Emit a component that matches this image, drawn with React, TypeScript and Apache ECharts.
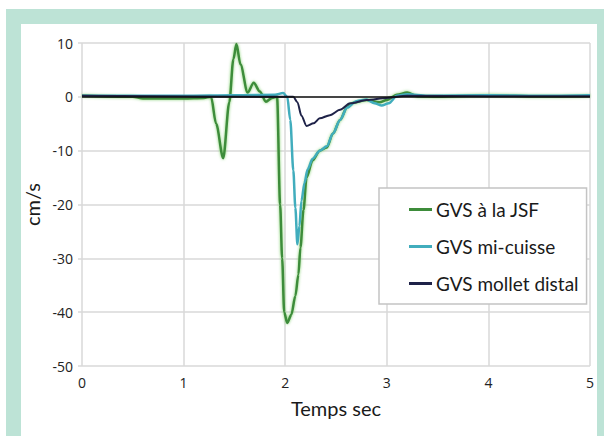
import React, { useEffect, useRef } from "react";
import * as echarts from "echarts";

const xTicks = [0, 1, 2, 3, 4, 5];
const yTicks = [-50, -40, -30, -20, -10, 0, 10];

const seriesNames = ["GVS à la JSF", "GVS mi-cuisse", "GVS mollet distal"];

const jsfTime = [0, 0.5, 0.6, 1.0, 1.2, 1.27, 1.32, 1.39, 1.45, 1.49, 1.52, 1.56, 1.63, 1.69, 1.75, 1.81, 1.87, 1.92, 1.95, 1.97, 1.99, 2.02, 2.06, 2.1, 2.13, 2.15, 2.18, 2.21, 2.27, 2.34, 2.41, 2.47, 2.54, 2.61, 2.67, 2.8, 2.93, 3.0, 3.1, 3.2, 3.3, 3.5, 4.0, 4.5, 5.0];
const jsfValues = [0.2, 0, -0.3, -0.3, -0.2, 0, -5, -11.4, -1, 7, 9.8, 6, 0.8, 2.6, 1, -0.9, -0.2, 0, -20, -30, -40, -42, -40.5, -37, -33, -28, -21, -15, -11.8, -10, -9.4, -6.8, -4.3, -1.9, -1.1, -0.6, -1, -0.6, 0.4, 0.8, 0.1, 0, 0.3, 0.1, 0.2];

const cuisseTime = [0, 1.0, 1.5, 1.9, 1.98, 2.02, 2.05, 2.08, 2.1, 2.12, 2.14, 2.16, 2.19, 2.22, 2.27, 2.34, 2.41, 2.47, 2.54, 2.61, 2.7, 2.8, 2.88, 2.95, 3.02, 3.1, 3.2, 3.4, 4.0, 4.5, 5.0];
const cuisseValues = [0.2, 0.2, 0.3, 0.4, 0.7, 0, -4.3, -13.7, -20.6, -27.4, -24, -19.3, -16, -13.5, -11.5, -10, -9.2, -6.8, -4.3, -2, -0.8, -0.5, -1.2, -1.6, -1.2, 0.2, 0.5, 0.2, 0.3, 0.2, 0.3];

const molletTime = [0, 2.0, 2.08, 2.12, 2.16, 2.21, 2.28, 2.34, 2.44, 2.54, 2.64, 2.8, 3.0, 3.2, 4.0, 5.0];
const molletValues = [0.2, 0, 0, -1, -3.5, -5.4, -4.9, -4, -3.4, -2.4, -1.2, -0.6, -0.2, 0.2, 0.1, 0.1];

const colors = ["#3d8c3a", "#41adbd", "#1e2248"];

const pair = (t: number[], v: number[]) => t.map((x, i) => [x, v[i]]);

const narrow = 'Lato, "Open Sans", sans-serif';

export default function App() {
  const ref = useRef<HTMLDivElement>(null);
  useEffect(() => {
    if (!ref.current) return;
    const chart = echarts.init(ref.current, undefined, { renderer: "svg" });
    chart.setOption({
      animation: false,
      grid: { left: 82, right: 14, top: 43, bottom: 70, containLabel: false },
      legend: {
        orient: "vertical",
        left: 379,
        top: 188,
        backgroundColor: "#fff",
        borderColor: "#c4c4c4",
        borderWidth: 1.5,
        padding: [12, 8, 11, 30],
        itemGap: 18,
        itemWidth: 23,
        itemHeight: 3,
        icon: "rect",
        data: seriesNames,
        textStyle: { fontFamily: narrow, fontSize: 19, color: "#1a1a1a", padding: [0, 0, 0, -1] },
      },
      xAxis: {
        type: "value",
        min: xTicks[0],
        max: xTicks[xTicks.length - 1],
        interval: 1,
        name: "Temps sec",
        nameLocation: "middle",
        nameGap: 32,
        nameTextStyle: { fontFamily: narrow, fontSize: 20, color: "#1a1a1a" },
        axisLine: { show: false },
        axisTick: { show: false },
        axisLabel: { fontFamily: '"Open Sans", sans-serif', fontSize: 14, color: "#222", margin: 9 },
        splitLine: { show: true, lineStyle: { color: "#d9d9d9", width: 1.5 } },
      },
      yAxis: {
        type: "value",
        min: yTicks[0],
        max: yTicks[yTicks.length - 1],
        interval: 10,
        name: "cm/s",
        nameLocation: "middle",
        nameGap: 36,
        nameTextStyle: { fontFamily: narrow, fontSize: 20, color: "#1a1a1a" },
        axisLine: { show: false },
        axisTick: { show: true, length: 4, lineStyle: { color: "#d9d9d9", width: 1.5 } },
        axisLabel: { fontFamily: '"Open Sans", sans-serif', fontSize: 14, color: "#222", margin: 9 },
        splitLine: { show: true, lineStyle: { color: "#d9d9d9", width: 1.5 } },
      },
      series: [
        {
          name: seriesNames[0],
          type: "line",
          data: pair(jsfTime, jsfValues),
          smooth: 0.3,
          smoothMonotone: "x",
          showSymbol: false,
          color: colors[0],
          lineStyle: { width: 2.5, color: colors[0], shadowBlur: 3, shadowColor: "rgba(120,205,100,0.9)" },
        },
        {
          name: seriesNames[1],
          type: "line",
          data: pair(cuisseTime, cuisseValues),
          smooth: 0.3,
          smoothMonotone: "x",
          showSymbol: false,
          color: colors[1],
          lineStyle: { width: 2.5, color: colors[1] },
        },
        {
          name: seriesNames[2],
          type: "line",
          data: pair(molletTime, molletValues),
          smooth: 0.3,
          smoothMonotone: "x",
          showSymbol: false,
          color: colors[2],
          lineStyle: { width: 2, color: colors[2] },
          markLine: {
            silent: true,
            symbol: "none",
            label: { show: false },
            lineStyle: { color: "#111", width: 1.5, type: "solid" },
            data: [{ yAxis: 0 }],
          },
        },
      ],
    });
    return () => chart.dispose();
  }, []);

  return (
    <div style={{ position: "fixed", left: 0, top: 0, width: 604, height: 436, background: "#fff" }}>
      <div style={{ position: "absolute", left: 6, top: 9, width: 598, height: 427, background: "#bde3d6" }} />
      <div style={{ position: "absolute", left: 21, top: 24, width: 576, height: 412, background: "#fff" }} />
      <div ref={ref} style={{ position: "absolute", left: 0, top: 0, width: 604, height: 436 }} />
    </div>
  );
}
